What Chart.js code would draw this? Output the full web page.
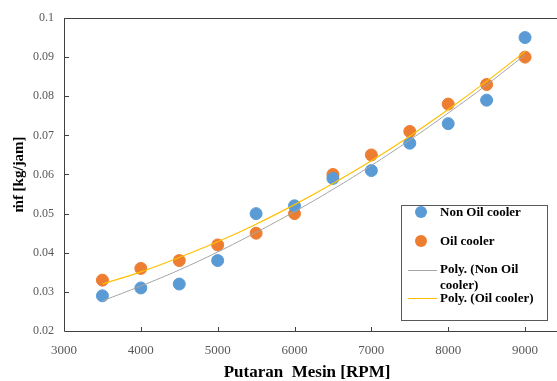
<!DOCTYPE html>
<html>
<head>
<meta charset="utf-8">
<script src="https://cdn.jsdelivr.net/npm/chart.js@4.4.1/dist/chart.umd.min.js"></script>
<style>
  body { margin: 0; background: #fff; }
  #wrap { position: relative; width: 557px; height: 381px; }
</style>
</head>
<body>
<div id="wrap"><canvas id="fuelChart" width="557" height="381"></canvas></div>
<script>
var rpm = [3500, 4000, 4500, 5000, 5500, 6000, 6500, 7000, 7500, 8000, 8500, 9000];
var nonOil = [0.029, 0.031, 0.032, 0.038, 0.050, 0.052, 0.059, 0.061, 0.068, 0.073, 0.079, 0.095];
var oilCooler = [0.033, 0.036, 0.038, 0.042, 0.045, 0.050, 0.060, 0.065, 0.071, 0.078, 0.083, 0.090];
// trendlines
var polyNonOil = [0.0277, 0.0315, 0.0356, 0.0402, 0.0452, 0.0505, 0.0562, 0.0623, 0.0688, 0.0757, 0.0829, 0.0906];
var polyOil = [0.0320, 0.0351, 0.0388, 0.0428, 0.0473, 0.0523, 0.0577, 0.0635, 0.0698, 0.0766, 0.0838, 0.0914];
var xTicks = [3000, 4000, 5000, 6000, 7000, 8000, 9000];

var serif = "'Liberation Serif', 'DejaVu Serif', serif";

function pts(xs, ys) {
  var out = [];
  for (var i = 0; i < xs.length; i++) {
    out.push({x: xs[i], y: ys[i]});
  }
  return out;
}

var frame = {
  id: 'frame',
  afterDraw: function(chart) {
    var ctx = chart.ctx, a = chart.chartArea;
    var xs = chart.scales.x, ys = chart.scales.y;
    ctx.save();
    ctx.strokeStyle = '#404040';
    ctx.lineWidth = 1;
    ctx.beginPath();
    ctx.moveTo(a.left + 0.5, a.top + 0.5);
    ctx.lineTo(557, a.top + 0.5);
    ctx.moveTo(a.left + 0.5, a.top);
    ctx.lineTo(a.left + 0.5, a.bottom + 0.5);
    ctx.lineTo(557, a.bottom + 0.5);
    // inward tick marks
    xTicks.forEach(function(v) {
      var px = Math.round(xs.getPixelForValue(v)) + 0.5;
      ctx.moveTo(px, a.bottom);
      ctx.lineTo(px, a.bottom - 4);
    });
    for (var v = 0.03; v < 0.1; v += 0.01) {
      var py = Math.round(ys.getPixelForValue(v)) + 0.5;
      ctx.moveTo(a.left, py);
      ctx.lineTo(a.left + 5, py);
    }
    ctx.stroke();

    // legend
    var lx = 401, ly = 205, lw = 146, lh = 115;
    ctx.fillStyle = '#fff';
    ctx.fillRect(lx, ly, lw, lh);
    ctx.strokeStyle = '#595959';
    ctx.strokeRect(lx + 0.5, ly + 0.5, lw, lh);
    ctx.font = 'bold 13px ' + serif;
    ctx.textBaseline = 'middle';
    ctx.textAlign = 'left';

    ctx.beginPath();
    ctx.fillStyle = '#5B9BD5';
    ctx.arc(421, 212, 6, 0, Math.PI * 2);
    ctx.fill();
    ctx.beginPath();
    ctx.fillStyle = '#ED7D31';
    ctx.arc(421, 241, 6, 0, Math.PI * 2);
    ctx.fill();

    ctx.fillStyle = '#000';
    ctx.fillText('Non Oil cooler', 440, 213);
    ctx.fillText('Oil cooler', 440, 242);
    ctx.fillText('Poly. (Non Oil', 440, 270);
    ctx.fillText('cooler)', 440, 286);
    ctx.fillText('Poly. (Oil cooler)', 440, 299);

    ctx.lineWidth = 1;
    ctx.strokeStyle = '#A5A5A5';
    ctx.beginPath();
    ctx.moveTo(408, 270.5);
    ctx.lineTo(437, 270.5);
    ctx.stroke();
    ctx.strokeStyle = '#FFC000';
    ctx.beginPath();
    ctx.moveTo(408, 298.5);
    ctx.lineTo(437, 298.5);
    ctx.stroke();
    ctx.restore();
  }
};

new Chart(document.getElementById('fuelChart'), {
  type: 'scatter',
  data: {
    datasets: [
      {
        label: 'Poly. (Non Oil cooler)',
        data: pts(rpm, polyNonOil),
        showLine: true,
        borderColor: '#A5A5A5',
        borderWidth: 1,
        pointRadius: 0,
        tension: 0.4,
        order: 0
      },
      {
        label: 'Poly. (Oil cooler)',
        data: pts(rpm, polyOil),
        showLine: true,
        borderColor: '#FFC000',
        borderWidth: 1.2,
        pointRadius: 0,
        tension: 0.4,
        order: 0
      },
      {
        label: 'Non Oil cooler',
        data: pts(rpm, nonOil),
        backgroundColor: '#5B9BD5',
        borderColor: '#5B9BD5',
        pointRadius: 6,
        order: 1
      },
      {
        label: 'Oil cooler',
        data: pts(rpm, oilCooler),
        backgroundColor: '#ED7D31',
        borderColor: '#ED7D31',
        pointRadius: 6,
        order: 1
      }
    ]
  },
  options: {
    responsive: false,
    animation: false,
    layout: { padding: { top: 18, right: 0, left: 0, bottom: 0 } },
    plugins: {
      legend: { display: false },
      tooltip: { enabled: false }
    },
    scales: {
      x: {
        type: 'linear',
        min: 3000,
        max: 9325,
        afterBuildTicks: function(s) {
          s.ticks = xTicks.map(function(v) { return {value: v}; });
        },
        afterFit: function(s) { s.height = 50; },
        grid: { display: false },
        border: { display: false },
        ticks: {
          padding: 4,
          maxRotation: 0,
          autoSkip: false,
          color: '#595959',
          font: { family: serif, size: 13 },
          callback: function(v) { return String(v); }
        },
        title: {
          display: true,
          text: 'Putaran  Mesin [RPM]',
          color: '#000',
          padding: { top: 0, bottom: -2 },
          font: { family: serif, size: 17, weight: 'bold' }
        }
      },
      y: {
        min: 0.02,
        max: 0.1,
        afterFit: function(s) { s.width = 64; },
        grid: { display: false },
        border: { display: false },
        ticks: {
          stepSize: 0.01,
          padding: 2,
          color: '#595959',
          font: { family: serif, size: 12 },
          callback: function(v) { return String(+v.toFixed(2)); }
        },
        title: {
          display: true,
          text: 'ṁf [kg/jam]',
          color: '#000',
          padding: { top: 10, bottom: 0 },
          font: { family: serif, size: 15, weight: 'bold' }
        }
      }
    }
  },
  plugins: [frame]
});
</script>
</body>
</html>
